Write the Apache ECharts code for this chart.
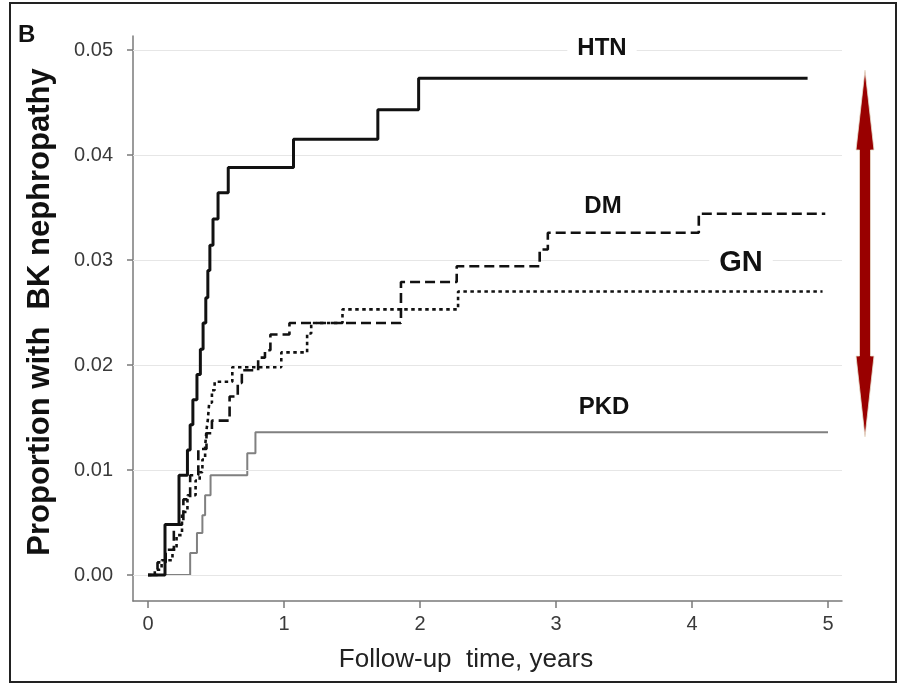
<!DOCTYPE html>
<html><head><meta charset="utf-8">
<script src="https://cdn.jsdelivr.net/npm/echarts@6/dist/echarts.min.js"></script>
<style>html,body{margin:0;padding:0;background:#fff}#c{width:908px;height:685px}</style>
</head><body><div id="c"></div>
<script>
// ---- data ----
const xTicks = [0, 1, 2, 3, 4, 5];
const yTicks = [0, 0.01, 0.02, 0.03, 0.04, 0.05];

const htnTime  = [0, 0.125, 0.228, 0.29, 0.31, 0.33, 0.36, 0.385, 0.405, 0.425, 0.44, 0.455, 0.478, 0.515, 0.59, 1.07, 1.69, 1.99, 4.85];
const htnValue = [0, 0.0048, 0.0095, 0.0119, 0.0143, 0.0167, 0.0191, 0.0215, 0.024, 0.0264, 0.029, 0.0314, 0.0339, 0.0364, 0.0388, 0.0415, 0.0443, 0.0473, 0.0473];

const dmTime  = [0, 0.07, 0.13, 0.19, 0.26, 0.31, 0.37, 0.43, 0.47, 0.60, 0.66, 0.69, 0.81, 0.86, 0.90, 1.04, 1.86, 2.27, 2.88, 2.94, 4.05, 4.98];
const dmValue = [0, 0.0012, 0.0024, 0.0048, 0.0072, 0.0095, 0.012, 0.0135, 0.0147, 0.017, 0.0183, 0.0195, 0.0207, 0.0214, 0.0229, 0.024, 0.0279, 0.0294, 0.031, 0.0326, 0.0344, 0.0344];

const gnTime  = [0, 0.05, 0.10, 0.18, 0.21, 0.25, 0.29, 0.35, 0.38, 0.40, 0.42, 0.43, 0.44, 0.45, 0.47, 0.49, 0.62, 0.98, 1.17, 1.20, 1.43, 2.28, 4.96];
const gnValue = [0, 0.0005, 0.0014, 0.0024, 0.0038, 0.006, 0.0076, 0.009, 0.0098, 0.011, 0.0122, 0.0138, 0.0148, 0.0164, 0.0176, 0.0184, 0.0198, 0.0212, 0.023, 0.024, 0.0253, 0.027, 0.027];

const pkdTime  = [0, 0.31, 0.36, 0.40, 0.42, 0.46, 0.73, 0.79, 5.0];
const pkdValue = [0, 0.0021, 0.004, 0.0057, 0.0076, 0.0095, 0.0116, 0.0136, 0.0136];

const groupNames = ['HTN', 'DM', 'GN', 'PKD'];
// ---------------

const zip = (t, v) => t.map((x, i) => [x, v[i]]);
const FONT = 'Liberation Sans, Arial, sans-serif';

const chart = echarts.init(document.getElementById('c'), null, {renderer: 'canvas'});

const labelStyle = (text, size) => ({
  text: text, font: 'bold ' + size + 'px ' + FONT, fill: '#111', align: 'center', verticalAlign: 'middle',
  backgroundColor: '#fff', padding: [2, 10]
});

const option = {
  animation: false,
  backgroundColor: '#fff',
  grid: {left: 133, top: 36, width: 709, height: 565, containLabel: false},
  xAxis: {
    type: 'value', min: -0.1103, max: 5.103,
    axisLine: {show: true, onZero: false, lineStyle: {color: '#7a7a7a', width: 1.5}},
    axisTick: {show: true, customValues: xTicks, length: 7, lineStyle: {color: '#7a7a7a', width: 1.5}},
    axisLabel: {customValues: xTicks, color: '#3a3a3a', fontSize: 20, fontFamily: FONT, margin: 13,
      formatter: v => String(Math.round(v))},
    splitLine: {show: false}
  },
  yAxis: {
    type: 'value', min: -0.002476, max: 0.051333,
    axisLine: {show: true, onZero: false, lineStyle: {color: '#7a7a7a', width: 1.5}},
    axisTick: {show: true, customValues: yTicks, length: 6, lineStyle: {color: '#7a7a7a', width: 1.5}},
    axisLabel: {customValues: yTicks, color: '#3a3a3a', fontSize: 20, fontFamily: FONT, margin: 20,
      formatter: v => v.toFixed(2)},
    splitLine: {show: false}
  },
  series: [
    {
      type: 'line', data: [], z: 1, silent: true,
      markLine: {
        silent: true, symbol: 'none', label: {show: false},
        lineStyle: {color: '#e6e6e6', width: 1.2, type: 'solid'},
        data: yTicks.map(v => ({yAxis: v}))
      }
    },
    {name: groupNames[3], type: 'line', step: 'end', showSymbol: false, z: 3,
      data: zip(pkdTime, pkdValue), lineStyle: {color: '#808080', width: 2}},
    {name: groupNames[2], type: 'line', step: 'end', showSymbol: false, z: 4,
      data: zip(gnTime, gnValue), lineStyle: {color: '#111', width: 2.6, type: [3.5, 3.5], cap: 'butt'}},
    {name: groupNames[1], type: 'line', step: 'end', showSymbol: false, z: 5,
      data: zip(dmTime, dmValue), lineStyle: {color: '#111', width: 2.6, type: [10, 5], cap: 'butt'}},
    {name: groupNames[0], type: 'line', step: 'end', showSymbol: false, z: 6,
      data: zip(htnTime, htnValue), lineStyle: {color: '#111', width: 3}}
  ],
  graphic: [
    {type: 'rect', shape: {x: 10, y: 3, width: 886, height: 679}, style: {fill: 'none', stroke: '#222', lineWidth: 2}, z: 0},
    {type: 'text', x: 18, y: 23, style: {text: 'B', font: 'bold 24px ' + FONT, fill: '#111'}},
    {type: 'text', x: 40, y: 312, rotation: Math.PI / 2,
      style: {text: 'Proportion with  BK nephropathy', font: 'bold 31px ' + FONT, fill: '#111', align: 'center', verticalAlign: 'middle'}},
    {type: 'text', x: 466, y: 660,
      style: {text: 'Follow-up  time, years', font: '26px ' + FONT, fill: '#222', align: 'center', verticalAlign: 'middle'}},
    {type: 'text', x: 602, y: 48, z: 10, style: labelStyle(groupNames[0], 24)},
    {type: 'text', x: 603, y: 206, z: 10, style: labelStyle(groupNames[1], 24)},
    {type: 'text', x: 741, y: 263, z: 10, style: labelStyle(groupNames[2], 29)},
    {type: 'text', x: 604, y: 407, z: 10, style: labelStyle(groupNames[3], 24)},
    {type: 'polygon', shape: {points: [[865, 70], [874, 150], [870.5, 150], [870.5, 356], [874, 356], [865, 437], [856, 356], [859.5, 356], [859.5, 150], [856, 150]]},
      style: {fill: '#990000', stroke: '#e9e2cf', lineWidth: 0.8}}
  ]
};
chart.setOption(option);
</script>
</body></html>
